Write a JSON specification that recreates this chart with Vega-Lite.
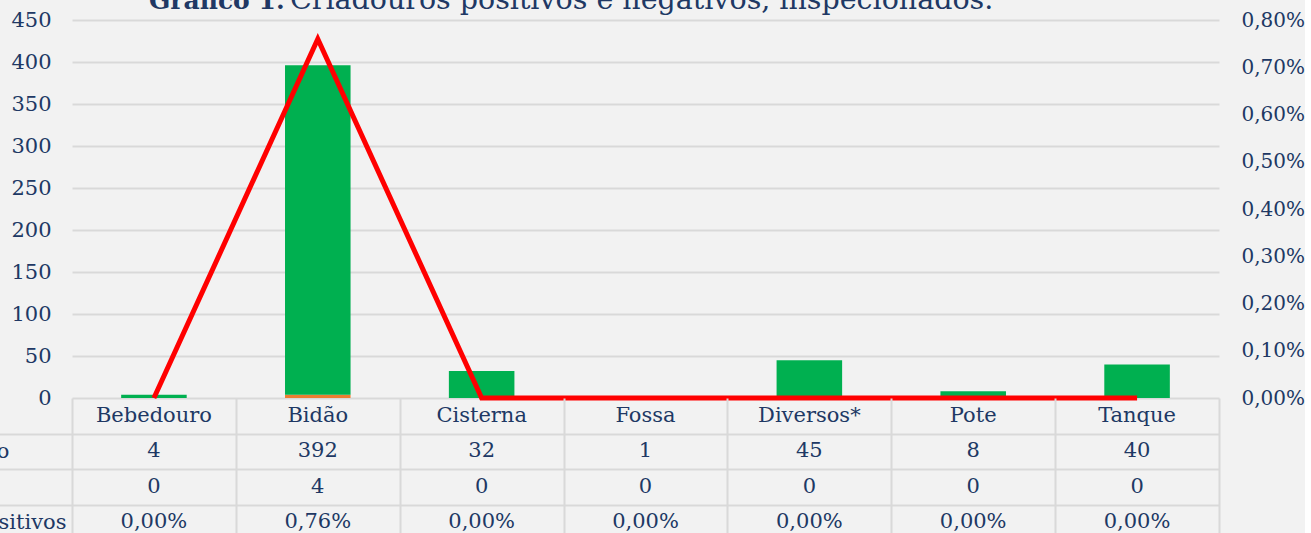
{
  "$schema": "https://vega.github.io/schema/vega-lite/v6.json",
  "background": "#F2F2F2",
  "padding": {"left": -129, "top": -15, "right": 0, "bottom": 0},
  "datasets": {
    "tab": [
      {"tipo": "Bebedouro", "Negativo": 4, "Positivo": 0, "pct": 0},
      {"tipo": "Bidão", "Negativo": 392, "Positivo": 4, "pct": 0.0076},
      {"tipo": "Cisterna", "Negativo": 32, "Positivo": 0, "pct": 0},
      {"tipo": "Fossa", "Negativo": 1, "Positivo": 0, "pct": 0},
      {"tipo": "Diversos*", "Negativo": 45, "Positivo": 0, "pct": 0},
      {"tipo": "Pote", "Negativo": 8, "Positivo": 0, "pct": 0},
      {"tipo": "Tanque", "Negativo": 40, "Positivo": 0, "pct": 0}
    ]
  },
  "title": {"text": "Gráfico 1.", "fontWeight": "bold", "fontSize": 25, "anchor": "start", "frame": "group", "dx": 77, "dy": 28, "offset": 0},
  "bounds": "flush",
  "spacing": 0,
  "resolve": {"scale": {"x": "independent", "y": "independent"}},
  "vconcat": [
    {
      "width": 1147,
      "height": 378,
      "data": {"name": "tab"},
      "title": {"text": "Criadouros positivos e negativos, inspecionados.", "fontWeight": "normal", "fontSize": 28.5, "anchor": "start", "frame": "group", "dx": 218, "offset": -5},
      "encoding": {
        "x": {"field": "tipo", "type": "nominal", "sort": null, "scale": {"paddingInner": 0.6, "paddingOuter": 0.3}, "axis": null}
      },
      "layer": [
        {
          "transform": [{"fold": ["Positivo", "Negativo"], "as": ["serie", "valor"]}],
          "mark": {"type": "bar"},
          "encoding": {
            "y": {"field": "valor", "type": "quantitative", "stack": "zero", "scale": {"domain": [0, 450]},
              "axis": {"values": [0, 50, 100, 150, 200, 250, 300, 350, 400, 450], "grid": true, "gridColor": "#D9D9D9", "gridWidth": 2, "domain": false, "ticks": false, "labelPadding": 21, "title": null}},
            "color": {"field": "serie", "type": "nominal", "scale": {"domain": ["Positivo", "Negativo"], "range": ["#ED7D31", "#00B050"]}, "legend": null},
            "order": {"field": "serie", "sort": "descending"}
          }
        },
        {
          "mark": {"type": "line", "color": "#FF0000", "strokeWidth": 5, "strokeJoin": "miter"},
          "encoding": {
            "y": {"field": "pct", "type": "quantitative", "scale": {"domain": [0, 0.008]},
              "axis": {"orient": "right", "values": [0, 0.001, 0.002, 0.003, 0.004, 0.005, 0.006, 0.007, 0.008], "format": ".2%", "grid": false, "domain": false, "ticks": false, "labelPadding": 22, "labelFontSize": 20, "title": null}}
          }
        }
      ],
      "resolve": {"scale": {"y": "independent"}}
    },
    {
      "width": 1147,
      "height": 142,
      "data": {"name": "tab"},
      "encoding": {
        "x": {"field": "tipo", "type": "nominal", "sort": null, "scale": {"paddingInner": 0, "paddingOuter": 0},
          "axis": {"labels": false, "ticks": false, "domain": false, "grid": true, "tickBand": "extent", "gridColor": "#D9D9D9", "gridWidth": 2, "title": null}}
      },
      "layer": [
        {
          "mark": {"type": "text", "fontSize": 21, "color": "#203864", "baseline": "middle"},
          "encoding": {
            "y": {"datum": "header", "type": "nominal",
              "scale": {"domain": ["header", "Negativo", "Positivo", "% Positivos"], "paddingInner": 0, "paddingOuter": 0},
              "axis": {"grid": true, "tickBand": "extent", "gridColor": "#D9D9D9", "gridWidth": 2,
                "gridOpacity": {"condition": {"test": "datum.extra", "value": 0}, "value": 1},
                "domain": false,
                "ticks": true, "tickSize": 200, "tickColor": "#D9D9D9", "tickWidth": 2,
                "tickOpacity": {"condition": {"test": "datum.extra", "value": 0}, "value": 1},
                "labelExpr": "datum.value === 'header' ? '' : datum.value",
                "labelAlign": "right",
                "labelPadding": {"condition": [{"test": "datum.value === 'Negativo'", "value": -137}, {"test": "datum.value === 'Positivo'", "value": -100}], "value": -194},
                "title": null}},
            "text": {"field": "tipo"}
          }
        },
        {
          "mark": {"type": "text", "fontSize": 21, "color": "#203864", "baseline": "middle"},
          "encoding": {"y": {"datum": "Negativo", "type": "nominal"}, "text": {"field": "Negativo"}}
        },
        {
          "mark": {"type": "text", "fontSize": 21, "color": "#203864", "baseline": "middle"},
          "encoding": {"y": {"datum": "Positivo", "type": "nominal"}, "text": {"field": "Positivo"}}
        },
        {
          "mark": {"type": "text", "fontSize": 21, "color": "#203864", "baseline": "middle"},
          "encoding": {"y": {"datum": "% Positivos", "type": "nominal"}, "text": {"field": "pct", "format": ".2%"}}
        }
      ]
    }
  ],
  "config": {
    "font": "DejaVu Serif",
    "view": {"stroke": null},
    "locale": {"number": {"decimal": ",", "thousands": ".", "grouping": [3], "currency": ["R$", ""]}},
    "axis": {"labelFont": "DejaVu Serif", "labelColor": "#203864", "labelFontSize": 21},
    "title": {"font": "DejaVu Serif", "color": "#203864"},
    "text": {"font": "DejaVu Serif"}
  }
}
